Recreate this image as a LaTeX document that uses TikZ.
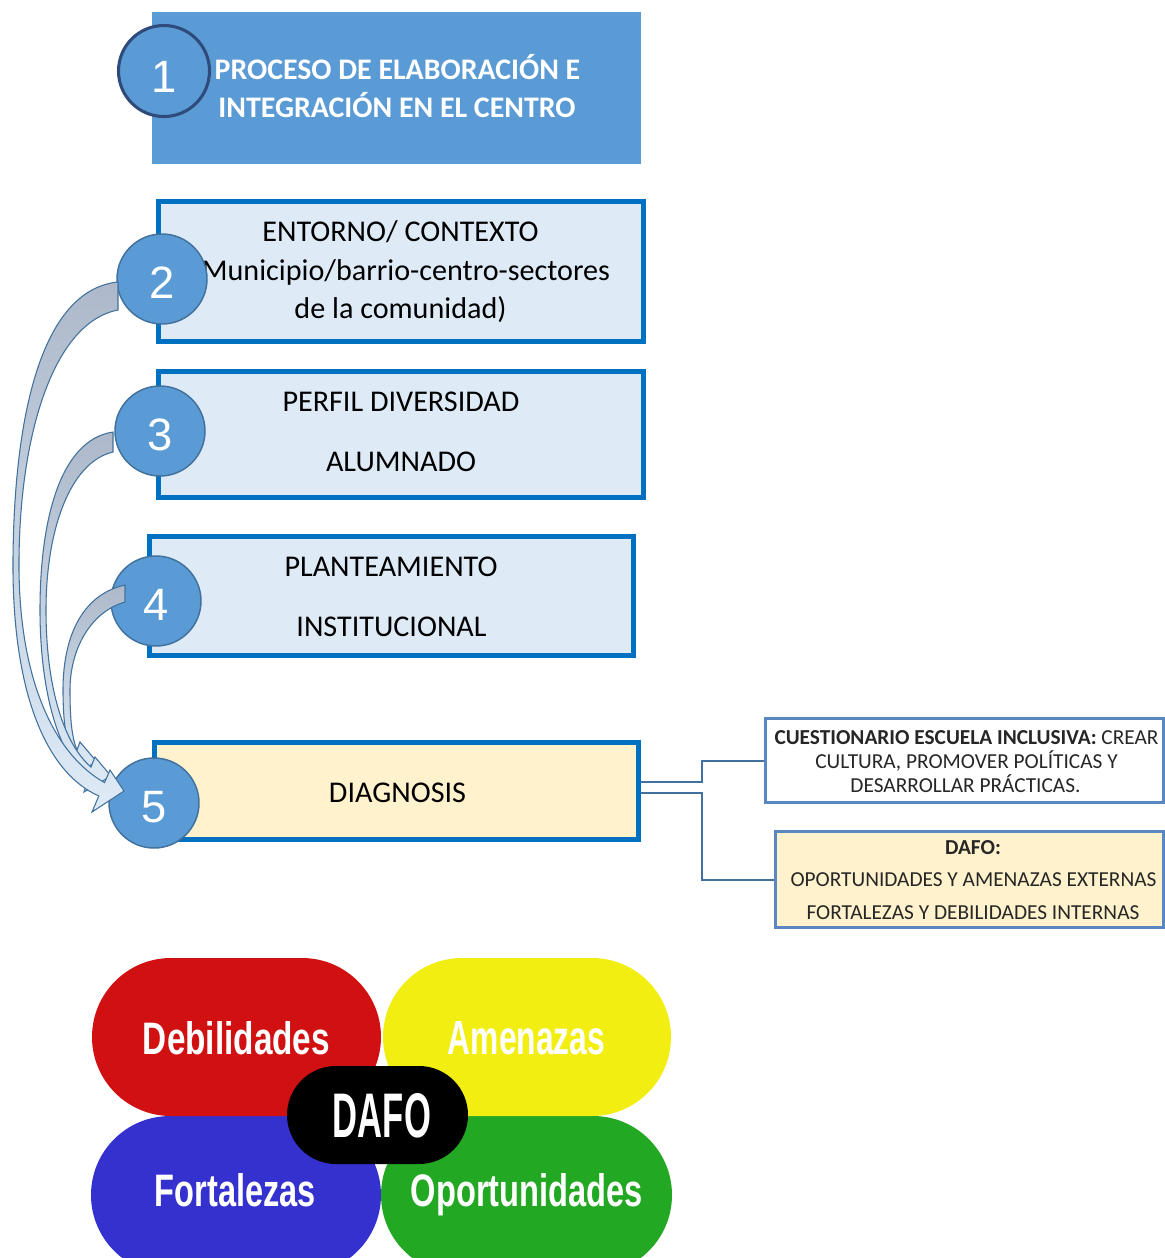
\documentclass[tikz,border=0pt]{standalone}
\usepackage{fontspec}
\setmainfont{Carlito}
\newfontfamily\numfont{Liberation Sans}
\usetikzlibrary{shapes.misc,shapes.geometric}
\newlength\pxu
\setlength\pxu{0.75pt}
\definecolor{topblue}{HTML}{5B9BD5}
\definecolor{navy}{HTML}{2F4B7C}
\definecolor{boxblue}{HTML}{0070C0}
\definecolor{lightfill}{HTML}{DEEBF7}
\definecolor{creamfill}{HTML}{FFF2CC}
\definecolor{circedge}{HTML}{41719C}
\definecolor{arrowtop}{HTML}{ADB9CA}
\definecolor{arrowbot}{HTML}{DEEBF7}
\definecolor{sideedge}{HTML}{5B87C0}
\definecolor{dred}{HTML}{D11111}
\definecolor{dyellow}{HTML}{F2EE12}
\definecolor{dblue}{HTML}{3531CF}
\definecolor{dgreen}{HTML}{22A822}
\newcommand{\dafoword}[3]{\resizebox{#1\pxu}{#2\pxu}{\numfont\bfseries #3}}
\begin{document}
\begin{tikzpicture}[x=0.75pt,y=-0.75pt,
  stepbox/.style={rectangle, draw=boxblue, line width=3.4pt, fill=lightfill, inner sep=0pt},
  numcirc/.style={circle, minimum size=90\pxu, inner sep=0pt, fill=topblue, draw=circedge, line width=1.1pt, text=white, font=\numfont\fontsize{34}{34}\selectfont, text height=28.8pt, text depth=0pt},
  boxtext/.style={anchor=base, inner sep=0pt, font=\fontsize{22.6}{26}\selectfont},
  titletext/.style={anchor=base, inner sep=0pt, text=white, font=\bfseries\fontsize{22.4}{26}\selectfont},
  sidetext/.style={anchor=base, inner sep=0pt, text=black!85, font=\fontsize{16}{19}\selectfont},
  sidebx/.style={rectangle, draw=sideedge, line width=1.6pt, inner sep=0pt},
  flowarrow/.style={draw=circedge, line width=0.8pt, top color=arrowtop, bottom color=arrowbot},
  conn/.style={draw=circedge, line width=1.5pt},
  quad/.style={rounded rectangle, minimum height=158\pxu, inner sep=0pt},
  dafolabel/.style={anchor=base, inner sep=0pt, text=white}]
\useasboundingbox (0,0) rectangle (1165,1258);
\fill[white] (0,0) rectangle (1165,1258);

% box 1
\node[rectangle, fill=topblue, minimum width=489\pxu, minimum height=152\pxu, inner sep=0pt] (box1) at (396.5,88) {};
\node[titletext] (t1a) at (397.5,79) {PROCESO DE ELABORACIÓN E};
\node[titletext] (t1b) at (397,117) {INTEGRACIÓN EN EL CENTRO};
\node[numcirc, minimum size=91\pxu, draw=navy, line width=2.3pt, text height=31.8pt] (c1) at (164,71) {1};

% box 2
\node[stepbox, minimum width=485.5\pxu, minimum height=140.5\pxu] (box2) at (401,271.5) {};
\node[boxtext] (t2a) at (400.5,241) {ENTORNO/ CONTEXTO};
\node[boxtext] (t2b) at (406,280) {Municipio/barrio-centro-sectores};
\node[boxtext] (t2c) at (400.5,318) {de la comunidad)};
% box 3
\node[stepbox, minimum width=485.5\pxu, minimum height=126.5\pxu] (box3) at (401,434.5) {};
\node[boxtext] (t3a) at (401,411) {PERFIL DIVERSIDAD};
\node[boxtext] (t3b) at (401,471) {ALUMNADO};
% box 4
\node[stepbox, minimum width=484.5\pxu, minimum height=119.5\pxu] (box4) at (391.5,596) {};
\node[boxtext] (t4a) at (391,576) {PLANTEAMIENTO};
\node[boxtext] (t4b) at (391.5,636) {INSTITUCIONAL};
% box 5
\node[stepbox, fill=creamfill, minimum width=484.5\pxu, minimum height=97.5\pxu] (box5) at (396.5,791) {};
\node[boxtext] (t5) at (397.5,802) {DIAGNOSIS};

% side boxes
\node[sidebx, fill=white, minimum width=398\pxu, minimum height=84\pxu] (boxA) at (964.5,760.5) {};
\node[sidetext] (tAa) at (966.5,744) {\textbf{CUESTIONARIO ESCUELA INCLUSIVA:} CREAR};
\node[sidetext] (tAb) at (966.5,768) {CULTURA, PROMOVER POLÍTICAS Y};
\node[sidetext] (tAc) at (965.5,792) {DESARROLLAR PRÁCTICAS.};
\node[sidebx, fill=creamfill, minimum width=388\pxu, minimum height=96\pxu] (boxB) at (969.5,879.5) {};
\node[sidetext] (tBa) at (973,854) {\textbf{DAFO:}};
\node[sidetext] (tBb) at (973.5,886) {OPORTUNIDADES Y AMENAZAS EXTERNAS};
\node[sidetext] (tBc) at (973,919) {FORTALEZAS Y DEBILIDADES INTERNAS};

% connectors
\draw[conn] ([yshift=7pt]box5.east) -- ++(61,0) |- (boxA.west);
\draw[conn] ([yshift=-1.5pt]box5.east) -- ++(61,0) |- (boxB.west);

% number circles
\node[numcirc] (c2) at (162,279) {2};
\node[numcirc] (c3) at (160,431) {3};
\node[numcirc] (c4) at (156,601) {4};
\node[numcirc] (c5) at (154,803) {5};

% curved arrows into 5
\path[flowarrow] (125,602) .. controls (90,612) and (70,650) .. (70,690) .. controls (70,720) and (72,738) .. (77,750)
  -- (80,742) -- (97,762) -- (70,775) -- (74,760)
  .. controls (66,745) and (63,720) .. (63,690) .. controls (63,640) and (80,595) .. (125,585) -- cycle;
\path[flowarrow] (113,452) .. controls (70,462) and (46,530) .. (46,610) .. controls (46,690) and (65,745) .. (91,767)
  -- (95,757) -- (111,776) -- (84,792) -- (88,779)
  .. controls (58,755) and (40,690) .. (40,610) .. controls (40,520) and (60,440) .. (113,432) -- cycle;
\path[flowarrow] (118,310) .. controls (55,322) and (20,430) .. (19,560) .. controls (18,680) and (55,755) .. (104.6,782.6)
  -- (110,770) -- (124,791) -- (92,812) -- (98.8,796)
  .. controls (45,772) and (12,690) .. (13,560) .. controls (14,420) and (40,290) .. (118,282) -- cycle;

% DAFO graphic
\begin{scope}
\clip (90,958) rectangle (672,1258);
\node[quad, fill=dblue, minimum width=290\pxu] (qF) at (236,1195) {};
\node[quad, fill=dgreen, minimum width=291\pxu] (qO) at (526.5,1195) {};
\node[quad, fill=dred, minimum width=289\pxu] (qD) at (236.5,1037) {};
\node[quad, fill=dyellow, minimum width=288\pxu] (qA) at (527,1037) {};
\node[rounded rectangle, fill=black, minimum width=181\pxu, minimum height=98\pxu, inner sep=0pt] (qC) at (377.5,1115) {};
\end{scope}
\node[dafolabel] (lD) at (236.5,1054) {\dafoword{187}{33}{Debilidades}};
\node[dafolabel] (lA) at (526.5,1054) {\dafoword{157}{33}{Amenazas}};
\node[dafolabel] (lF) at (235.5,1206) {\dafoword{161}{33}{Fortalezas}};
\node[dafolabel] (lO) at (527,1206) {\dafoword{232}{33}{Oportunidades}};
\node[dafolabel] (lC) at (382,1137) {\dafoword{98}{44}{DAFO}};
\end{tikzpicture}
\end{document}
